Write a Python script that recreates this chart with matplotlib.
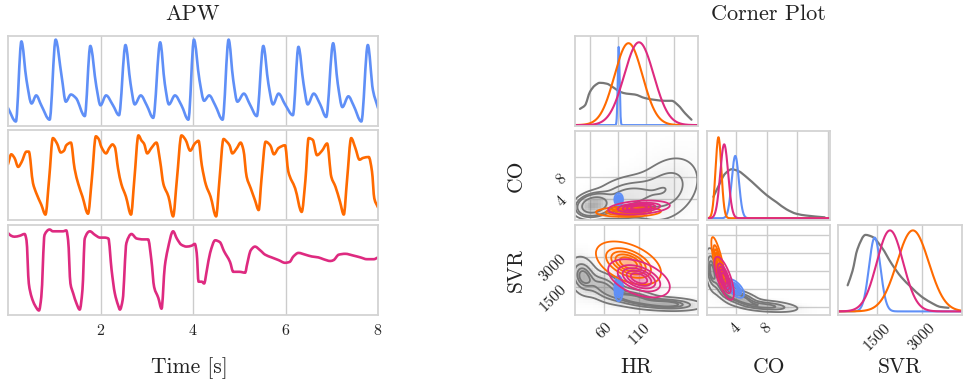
import numpy as np
import matplotlib
matplotlib.use("Agg")
import matplotlib.pyplot as plt
from matplotlib.colors import to_rgb
from matplotlib.path import Path
from matplotlib.patches import PathPatch

# ---------------- data ----------------
# APW traces (time [s], normalised pressure)
apw_blue_t = [0.00,0.17,0.29,0.40,0.51,0.61,0.72,0.90,1.03,1.16,1.25,1.36,1.47,1.66,1.78,1.91,2.00,2.12,2.27,
              2.40,2.54,2.65,2.74,2.87,3.00,3.14,3.29,3.39,3.48,3.61,3.75,3.90,4.02,4.14,4.24,4.35,4.48,4.64,
              4.77,4.87,4.96,5.10,5.23,5.38,5.52,5.63,5.73,5.85,5.99,6.16,6.28,6.39,6.48,6.61,6.75,6.88,7.03,
              7.13,7.23,7.36,7.47,7.64,7.78,7.89,8.00]
apw_blue_y = [0.20,0.05,0.94,0.51,0.25,0.34,0.23,0.07,0.96,0.55,0.27,0.35,0.31,0.11,0.89,0.44,0.23,0.34,0.23,
              0.12,0.90,0.47,0.24,0.34,0.23,0.09,0.93,0.47,0.24,0.34,0.23,0.07,0.96,0.51,0.28,0.34,0.23,0.07,
              0.96,0.51,0.27,0.36,0.24,0.11,0.89,0.47,0.24,0.36,0.24,0.12,0.88,0.47,0.24,0.36,0.24,0.10,0.92,
              0.47,0.21,0.33,0.23,0.05,0.90,0.40,0.20]

apw_orange_t = [0.00,0.07,0.14,0.22,0.29,0.40,0.45,0.54,0.61,0.72,0.81,0.89,0.97,1.06,1.14,1.21,1.26,1.36,1.44,
                1.52,1.61,1.73,1.81,1.90,1.96,2.02,2.12,2.19,2.26,2.31,2.38,2.45,2.55,2.66,2.73,2.82,2.89,2.94,
                3.01,3.10,3.21,3.29,3.36,3.47,3.57,3.65,3.75,3.84,3.94,4.04,4.12,4.19,4.28,4.38,4.50,4.57,4.66,
                4.73,4.79,4.85,4.95,5.03,5.09,5.16,5.25,5.34,5.42,5.48,5.57,5.67,5.75,5.85,5.99,6.06,6.21,6.35,
                6.43,6.50,6.59,6.68,6.79,6.90,6.99,7.08,7.18,7.26,7.33,7.42,7.51,7.60,7.68,7.80,7.87,7.92,8.00]
apw_orange_y = [0.62,0.73,0.69,0.59,0.64,0.76,0.76,0.41,0.30,0.17,0.06,0.46,0.91,0.85,0.75,0.77,0.83,0.86,0.57,
                0.40,0.26,0.07,0.44,0.93,0.90,0.81,0.74,0.80,0.84,0.81,0.57,0.40,0.26,0.06,0.44,0.94,0.88,0.85,
                0.74,0.80,0.86,0.65,0.40,0.26,0.04,0.44,0.94,0.89,0.77,0.85,0.88,0.61,0.39,0.26,0.04,0.43,0.90,
                0.87,0.83,0.74,0.80,0.86,0.78,0.48,0.35,0.22,0.11,0.45,0.87,0.83,0.73,0.80,0.83,0.54,0.35,0.09,
                0.44,0.91,0.89,0.72,0.77,0.85,0.48,0.37,0.20,0.06,0.44,0.91,0.80,0.67,0.69,0.70,0.54,0.24,0.14]

apw_magenta_t = [0.00,0.07,0.14,0.25,0.36,0.40,0.45,0.51,0.58,0.67,0.72,0.79,0.90,0.97,1.08,1.19,1.26,1.30,1.35,
                 1.41,1.48,1.55,1.61,1.66,1.77,1.88,1.99,2.09,2.17,2.24,2.31,2.38,2.42,2.48,2.56,2.67,2.78,2.92,
                 3.03,3.10,3.16,3.25,3.32,3.39,3.45,3.57,3.65,3.75,3.86,3.97,4.04,4.08,4.12,4.19,4.24,4.30,4.37,
                 4.48,4.58,4.67,4.80,4.87,5.00,5.13,5.16,5.25,5.34,5.45,5.56,5.70,5.85,5.99,6.09,6.17,6.28,6.43,
                 6.57,6.71,6.82,6.97,7.04,7.15,7.29,7.47,7.62,7.76,7.91,8.00]
apw_magenta_y = [0.91,0.88,0.87,0.88,0.90,0.83,0.35,0.20,0.11,0.05,0.20,0.89,0.95,0.93,0.93,0.93,0.94,0.83,0.35,
                 0.24,0.13,0.06,0.28,0.85,0.93,0.89,0.86,0.86,0.85,0.50,0.24,0.11,0.06,0.17,0.80,0.90,0.85,0.84,
                 0.84,0.61,0.31,0.19,0.07,0.54,0.72,0.93,0.85,0.78,0.76,0.77,0.79,0.69,0.37,0.37,0.35,0.50,0.69,
                 0.83,0.81,0.71,0.59,0.48,0.48,0.47,0.54,0.72,0.76,0.72,0.67,0.64,0.61,0.58,0.59,0.65,0.69,0.67,
                 0.65,0.64,0.62,0.60,0.61,0.67,0.68,0.66,0.64,0.62,0.62,0.64]

# corner plot: parameter names, tick values
param_names = ["HR", "CO", "SVR"]
hr_ticks = [60, 110]
co_ticks = [4, 8]
svr_ticks = [1500, 3000]

# posterior summaries (blue, orange, magenta)
post_colors = ["#5f8ff7", "#ff6a00", "#de2a80"]
hr_mu = [81, 95, 110]
hr_sd = [1.3, 20, 21]
hr_sd_joint = [2.5, 19, 18]
co_mu = [3.9, 1.7, 2.45]
co_sd = [0.47, 0.38, 0.52]
svr_mu = [1425, 2700, 1935]
svr_sd = [190, 530, 440]
svr_sd_joint = [260, 440, 390]
peak_hr = [0.87, 0.91, 0.92]
peak_co = [0.70, 0.91, 0.83]
peak_svr = [0.82, 0.90, 0.90]
rho_hr_co = [0.0, 0.1, 0.3]
rho_hr_svr = [0.0, -0.45, -0.45]
rho_co_svr = [-0.6, -0.8, -0.7]

# prior marginals (gray)
prior_hr_x = [25.7, 32.9, 40, 47, 54, 64, 73, 83, 92, 104, 118.6, 133, 147, 156.7, 166, 176, 185]
prior_hr_h = [0.18, 0.22, 0.37, 0.44, 0.47, 0.46, 0.42, 0.37, 0.35, 0.34, 0.30, 0.28, 0.27, 0.27, 0.22, 0.13, 0.06]
prior_co_x = [1.04, 1.7, 2.57, 3.44, 4.3, 5.4, 6.7, 8.0, 9.3, 10.6, 11.9, 13.2, 15.6]
prior_co_h = [0.24, 0.36, 0.50, 0.55, 0.53, 0.46, 0.36, 0.26, 0.18, 0.10, 0.05, 0.03, 0.01]
prior_svr_x = [522, 685, 848, 1120, 1337, 1663, 1989, 2315, 2641, 2967, 3293, 3619, 3890]
prior_svr_h = [0.29, 0.45, 0.69, 0.85, 0.83, 0.71, 0.53, 0.38, 0.27, 0.17, 0.10, 0.05, 0.04]

# prior joint components (gray): centre x, centre y, sd x, sd y, corr, weight
prior_hrco_mx = [45, 90, 150]
prior_hrco_my = [2.9, 4.3, 5.8]
prior_hrco_sx = [12, 25, 25]
prior_hrco_sy = [1.0, 2.0, 3.2]
prior_hrco_r = [0.2, 0.3, 0.3]
prior_hrco_w = [0.35, 0.3, 0.35]

prior_hrsvr_mx = [30, 60, 100, 150]
prior_hrsvr_my = [2050, 1500, 950, 650]
prior_hrsvr_sx = [10, 15, 20, 25]
prior_hrsvr_sy = [480, 400, 240, 170]
prior_hrsvr_r = [-0.2, -0.4, -0.4, -0.2]
prior_hrsvr_w = [0.25, 0.25, 0.25, 0.25]

prior_cosvr_mx = [0.8, 2.2, 4.5, 8.0]
prior_cosvr_my = [2400, 1600, 950, 550]
prior_cosvr_sx = [0.4, 0.8, 1.3, 2.0]
prior_cosvr_sy = [500, 380, 230, 150]
prior_cosvr_r = [-0.3, -0.6, -0.6, -0.4]
prior_cosvr_w = [0.2, 0.25, 0.3, 0.25]

# axis limits
HR_LIM = (18.6, 194.3)
CO_LIM = (0.2, 16.3)
SVR_XLIM = (200, 4340)
SVR_YLIM = (100, 4600)

GRAY = "#777777"

# ---------------- style ----------------
plt.rcParams.update({
    "font.family": ["cmr10", "DejaVu Serif"],
    "mathtext.fontset": "cm",
    "axes.unicode_minus": False,
    "axes.formatter.use_mathtext": True,
    "axes.edgecolor": "#d3d3d3",
    "axes.linewidth": 1.3,
    "grid.color": "#cccccc",
    "grid.linewidth": 1.0,
    "xtick.major.size": 0,
    "ytick.major.size": 0,
    "xtick.color": "#222222",
    "ytick.color": "#222222",
    "xtick.labelsize": 11.5,
    "ytick.labelsize": 11.5,
    "axes.labelsize": 15.5,
    "text.color": "#222222",
    "axes.labelcolor": "#222222",
})

W, H = 964, 383
fig = plt.figure(figsize=(W / 100, H / 100), dpi=100)


def rect(x0, y0, x1, y1):
    return [x0 / W, 1 - y1 / H, (x1 - x0) / W, (y1 - y0) / H]


def style(ax):
    ax.set_axisbelow(True)
    ax.grid(True)
    ax.tick_params(length=0, pad=4)


def smooth_line(ax, xs, ys, color, lw):
    """Draw a monotone (PCHIP-style) cubic Bezier curve through the given points."""
    x = np.asarray(xs, float)
    y = np.asarray(ys, float)
    h = np.diff(x)
    dl = np.diff(y) / h
    n = len(x)
    d = np.zeros(n)
    d[0], d[-1] = dl[0], dl[-1]
    for k in range(1, n - 1):
        if dl[k - 1] * dl[k] > 0:
            w1 = 2 * h[k] + h[k - 1]
            w2 = h[k] + 2 * h[k - 1]
            d[k] = (w1 + w2) / (w1 / dl[k - 1] + w2 / dl[k])
    verts = [(x[0], y[0])]
    codes = [Path.MOVETO]
    for k in range(n - 1):
        verts += [(x[k] + h[k] / 3, y[k] + d[k] * h[k] / 3),
                  (x[k + 1] - h[k] / 3, y[k + 1] - d[k + 1] * h[k] / 3),
                  (x[k + 1], y[k + 1])]
        codes += [Path.CURVE4] * 3
    ax.add_patch(PathPatch(Path(verts, codes), fill=False, edgecolor=color, lw=lw,
                           joinstyle="round", capstyle="round"))


XLABEL_Y = -(357 - 315) / 90.0   # top of x labels, axes fraction of a 90 px row

# ---------------- APW panels ----------------
rows_y = [(36, 126), (130, 220), (225, 315)]
apw = [(apw_blue_t, apw_blue_y, post_colors[0]),
       (apw_orange_t, apw_orange_y, post_colors[1]),
       (apw_magenta_t, apw_magenta_y, post_colors[2])]
for i, (tt, yy, c) in enumerate(apw):
    ax = fig.add_axes(rect(8, rows_y[i][0], 378, rows_y[i][1]))
    style(ax)
    smooth_line(ax, tt, yy, c, 1.9)
    ax.set_xlim(0, 8)
    ax.set_ylim(0, 1)
    ax.set_yticks([])
    ax.set_xticks([2, 4, 6, 8])
    ax.grid(True, axis="x")
    if i < 2:
        ax.set_xticklabels([])
    else:
        ax.tick_params(axis="x", pad=6)
        ax.set_xlabel("Time [s]")
        ax.xaxis.set_label_coords(0.49, XLABEL_Y)
fig.text(193 / W, 1 - 14 / H, "APW", ha="center", va="center", fontsize=16)
fig.text(768 / W, 1 - 14 / H, "Corner Plot", ha="center", va="center", fontsize=16)

# ---------------- corner plot ----------------
cols_x = [(575, 698), (707, 830), (838, 962)]
crow_y = [(36, 126), (131, 220), (225, 315)]


def cax(r, c):
    a = fig.add_axes(rect(cols_x[c][0], crow_y[r][0], cols_x[c][1], crow_y[r][1]))
    style(a)
    return a


def gauss2(X, Y, mx, my, sx, sy, r):
    zx = (X - mx) / sx
    zy = (Y - my) / sy
    q = (zx ** 2 - 2 * r * zx * zy + zy ** 2) / (1 - r ** 2)
    return np.exp(-0.5 * q) / (2 * np.pi * sx * sy * np.sqrt(1 - r ** 2))


def iso_levels(Z, qs):
    z = np.sort(Z.ravel())
    cs = np.cumsum(z)
    cs /= cs[-1]
    return sorted(set(float(z[np.searchsorted(cs, q)]) for q in qs))


def mixture(X, Y, mx, my, sx, sy, rr, ww):
    Z = np.zeros_like(X)
    for a, b, c, d, e, f in zip(mx, my, sx, sy, rr, ww):
        Z += f * gauss2(X, Y, a, b, c, d, e)
    return Z


QS = [0.05, 0.24, 0.43, 0.62, 0.81]


def joint_posterior(ax, xlim, ylim, mx, my, sx, sy, r, color, alpha=0.45, power=1.2):
    n = 240
    xs = np.linspace(xlim[0], xlim[1], n)
    ys = np.linspace(ylim[0], ylim[1], n)
    X, Y = np.meshgrid(xs, ys)
    Z = gauss2(X, Y, mx, my, sx, sy, r)
    rgba = np.zeros((n, n, 4))
    rgba[..., :3] = to_rgb(color)
    rgba[..., 3] = alpha * (Z / Z.max()) ** power
    ax.imshow(rgba, extent=[xlim[0], xlim[1], ylim[0], ylim[1]], origin="lower",
              aspect="auto", interpolation="bilinear", zorder=3)
    ax.contour(X, Y, Z, levels=iso_levels(Z, QS), colors=[color], linewidths=1.3, zorder=4)


def joint_prior(ax, xlim, ylim, mx, my, sx, sy, rr, ww):
    # coarse gray histogram-like shading
    nb = 48
    xe = np.linspace(xlim[0], xlim[1], nb + 1)
    ye = np.linspace(ylim[0], ylim[1], int(nb * 0.75) + 1)
    Xc, Yc = np.meshgrid(0.5 * (xe[1:] + xe[:-1]), 0.5 * (ye[1:] + ye[:-1]))
    Zc = mixture(Xc, Yc, mx, my, sx, sy, rr, ww)
    rgba = np.zeros(Zc.shape + (4,))
    rgba[..., :3] = to_rgb(GRAY)
    rgba[..., 3] = 0.6 * (Zc / Zc.max()) ** 0.75
    ax.imshow(rgba, extent=[xlim[0], xlim[1], ylim[0], ylim[1]], origin="lower",
              aspect="auto", interpolation="nearest", zorder=1)
    n = 240
    X, Y = np.meshgrid(np.linspace(xlim[0], xlim[1], n), np.linspace(ylim[0], ylim[1], n))
    Z = mixture(X, Y, mx, my, sx, sy, rr, ww)
    ax.contour(X, Y, Z, levels=iso_levels(Z, [0.05, 0.25, 0.5, 0.75]), colors=[GRAY],
               linewidths=1.3, zorder=2)


# (0,0) HR marginal
a00 = cax(0, 0)
x = np.linspace(*HR_LIM, 500)
smooth_line(a00, prior_hr_x, prior_hr_h, GRAY, 1.6)
for k in range(3):
    a00.plot(x, peak_hr[k] * np.exp(-0.5 * ((x - hr_mu[k]) / hr_sd[k]) ** 2), color=post_colors[k], lw=1.5)
a00.set_xlim(*HR_LIM)
a00.set_ylim(-0.01, 0.99)
a00.set_xticks([40, 80, 120, 160])
a00.set_xticklabels([])
a00.set_yticks([])

# (1,0) HR vs CO
a10 = cax(1, 0)
joint_prior(a10, HR_LIM, CO_LIM, prior_hrco_mx, prior_hrco_my, prior_hrco_sx, prior_hrco_sy,
            prior_hrco_r, prior_hrco_w)
for k in range(3):
    joint_posterior(a10, HR_LIM, CO_LIM, hr_mu[k], co_mu[k], hr_sd_joint[k], co_sd[k], rho_hr_co[k],
                    post_colors[k], alpha=1.0 if k == 0 else 0.45, power=0.6 if k == 0 else 1.2)
a10.set_xlim(*HR_LIM)
a10.set_ylim(*CO_LIM)
a10.set_xticks([40, 80, 120, 160])
a10.set_xticklabels([])
a10.set_yticks(co_ticks)
a10.set_yticklabels([str(v) for v in co_ticks], rotation=45)
a10.set_ylabel("CO")
a10.yaxis.set_label_coords(-(575 - 526) / 123.0, 0.5)

# (2,0) HR vs SVR
a20 = cax(2, 0)
joint_prior(a20, HR_LIM, SVR_YLIM, prior_hrsvr_mx, prior_hrsvr_my, prior_hrsvr_sx, prior_hrsvr_sy,
            prior_hrsvr_r, prior_hrsvr_w)
for k in range(3):
    joint_posterior(a20, HR_LIM, SVR_YLIM, hr_mu[k], svr_mu[k], hr_sd_joint[k], svr_sd_joint[k],
                    rho_hr_svr[k], post_colors[k], alpha=1.0 if k == 0 else 0.45,
                    power=0.6 if k == 0 else 1.2)
a20.set_xlim(*HR_LIM)
a20.set_ylim(*SVR_YLIM)
a20.set_xticks(hr_ticks)
a20.set_xticklabels([str(v) for v in hr_ticks], rotation=45)
a20.set_yticks(svr_ticks)
a20.set_yticklabels([str(v) for v in svr_ticks], rotation=45)
a20.set_ylabel("SVR")
a20.yaxis.set_label_coords(-(575 - 526) / 123.0, 0.5)
a20.set_xlabel("HR")
a20.xaxis.set_label_coords(0.5, XLABEL_Y)

# (1,1) CO marginal
a11 = cax(1, 1)
x = np.linspace(*CO_LIM, 500)
smooth_line(a11, prior_co_x, prior_co_h, GRAY, 1.6)
for k in range(3):
    a11.plot(x, peak_co[k] * np.exp(-0.5 * ((x - co_mu[k]) / co_sd[k]) ** 2), color=post_colors[k], lw=1.5)
a11.set_xlim(*CO_LIM)
a11.set_ylim(-0.02, 0.98)
a11.set_xticks([4, 8, 12, 16])
a11.set_xticklabels([])
a11.set_yticks([])

# (2,1) CO vs SVR
a21 = cax(2, 1)
joint_prior(a21, CO_LIM, SVR_YLIM, prior_cosvr_mx, prior_cosvr_my, prior_cosvr_sx, prior_cosvr_sy,
            prior_cosvr_r, prior_cosvr_w)
for k in range(3):
    joint_posterior(a21, CO_LIM, SVR_YLIM, co_mu[k], svr_mu[k], co_sd[k], svr_sd[k], rho_co_svr[k],
                    post_colors[k], alpha=0.5)
a21.set_xlim(*CO_LIM)
a21.set_ylim(*SVR_YLIM)
a21.set_xticks(co_ticks)
a21.set_xticklabels([str(v) for v in co_ticks], rotation=45)
a21.set_yticks([500, 1400, 2300, 3200, 4100])
a21.set_yticklabels([])
a21.set_xlabel("CO")
a21.xaxis.set_label_coords(0.5, XLABEL_Y)

# (2,2) SVR marginal
a22 = cax(2, 2)
x = np.linspace(*SVR_XLIM, 500)
smooth_line(a22, prior_svr_x, prior_svr_h, GRAY, 1.6)
for k in range(3):
    a22.plot(x, peak_svr[k] * np.exp(-0.5 * ((x - svr_mu[k]) / svr_sd[k]) ** 2), color=post_colors[k], lw=1.5)
a22.set_xlim(*SVR_XLIM)
a22.set_ylim(-0.04, 0.96)
a22.set_xticks(svr_ticks)
a22.set_xticklabels([str(v) for v in svr_ticks], rotation=45)
a22.set_yticks([])
a22.set_xlabel("SVR")
a22.xaxis.set_label_coords(0.5, XLABEL_Y)

fig.savefig("out.png", dpi=100)
